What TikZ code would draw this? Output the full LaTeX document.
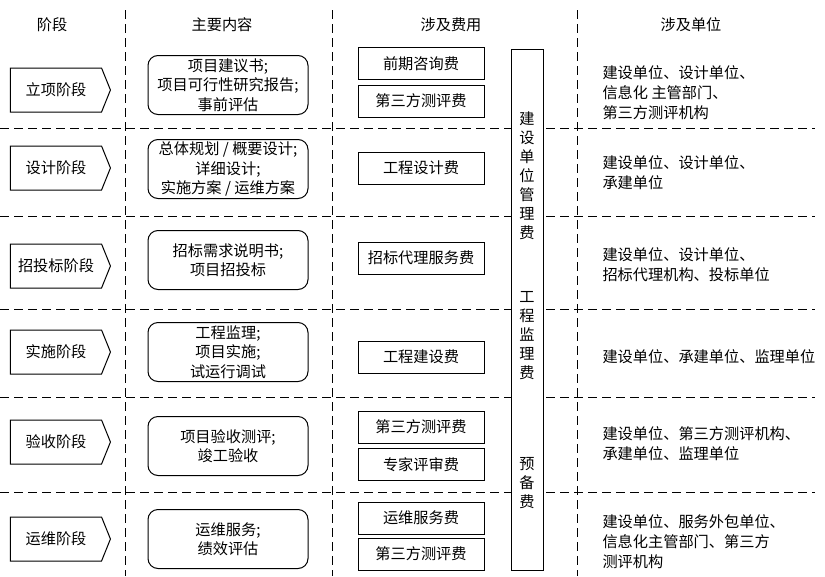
\documentclass[tikz,border=0pt]{standalone}
\usepackage{fontspec}
\setmainfont{Noto Sans CJK SC}
\usetikzlibrary{shapes.symbols}

\begin{document}
\begin{tikzpicture}[x=1pt, y=-1pt, line width=1pt,
  every node/.style={font=\fontsize{15.2}{19.5}\selectfont, inner sep=0pt},
  stage/.style={draw, shape=signal, signal to=east, signal pointer angle=136,
    minimum width=100pt, minimum height=44pt},
  content/.style={draw, rounded corners=10pt, minimum width=160pt, minimum height=59pt, align=center},
  cost/.style={draw, minimum width=126pt, minimum height=32pt},
  unit/.style={anchor=west, align=left, font=\fontsize{15.2}{20}\selectfont},
  vtext/.style={align=center, font=\fontsize{15.2}{19}\selectfont},
  rule/.style={line width=0.9pt, dash pattern=on 9pt off 5pt}]
  \useasboundingbox (0,0) rectangle (825,576);
  % table rules
  \foreach \y in {128,216,309,397,492} \draw[rule] (0,\y) -- (815,\y);
  \foreach \x in {125,332,577} \draw[rule] (\x,10) -- (\x,576);
  % headers
  \node (hstage) at (52,25)  {阶段};
  \node (hcont)  at (222,25) {主要内容};
  \node (hcost)  at (451,25) {涉及费用};
  \node (hunit)  at (691,25) {涉及单位};
  % stages
  \node[stage] (s1) at (56,90)  {立项阶段};
  \node[stage] (s2) at (56,168) {设计阶段};
  \node[stage] (s3) at (56,266) {招投标阶段};
  \node[stage] (s4) at (56,352) {实施阶段};
  \node[stage] (s5) at (56,442) {验收阶段};
  \node[stage] (s6) at (56,539) {运维阶段};
  % main contents
  \node[content] (c1) at (228,85)  {项目建议书;\\项目可行性研究报告;\\事前评估};
  \node[content] (c2) at (228,169) {总体规划 / 概要设计;\\详细设计;\\实施方案 / 运维方案};
  \node[content] (c3) at (228,260) {招标需求说明书;\\项目招投标};
  \node[content] (c4) at (228,352) {工程监理;\\项目实施;\\试运行调试};
  \node[content] (c5) at (228,446) {项目验收测评;\\竣工验收};
  \node[content] (c6) at (228,539) {运维服务;\\绩效评估};
  % costs
  \node[cost] (f1a) at (421,63.5)  {前期咨询费};
  \node[cost] (f1b) at (421,101)   {第三方测评费};
  \node[cost] (f2)  at (421,168)   {工程设计费};
  \node[cost] (f3)  at (421,258)   {招标代理服务费};
  \node[cost] (f4)  at (421,357)   {工程建设费};
  \node[cost] (f5a) at (421,427)   {第三方测评费};
  \node[cost] (f5b) at (421,464.5) {专家评审费};
  \node[cost] (f6a) at (421,518)   {运维服务费};
  \node[cost] (f6b) at (421,554)   {第三方测评费};
  % common costs
  \node[draw, fill=white, minimum width=32pt, minimum height=521pt] (common) at (527,309.5) {};
  \node[vtext] (v1) at (527,176) {建\\设\\单\\位\\管\\理\\费};
  \node[vtext] (v2) at (527,336) {工\\程\\监\\理\\费};
  \node[vtext] (v3) at (527,483) {预\\备\\费};
  % units
  \node[unit] (u1) at (602,93)    {建设单位、设计单位、\\信息化 主管部门、\\第三方测评机构};
  \node[unit] (u2) at (602,172.5) {建设单位、设计单位、\\承建单位};
  \node[unit] (u3) at (602,264.5) {建设单位、设计单位、\\招标代理机构、投标单位};
  \node[unit] (u4) at (602,357)   {建设单位、承建单位、监理单位};
  \node[unit] (u5) at (602,444)   {建设单位、第三方测评机构、\\承建单位、监理单位};
  \node[unit] (u6) at (602,541.5) {建设单位、服务外包单位、\\信息化主管部门、第三方\\测评机构};
\end{tikzpicture}
\end{document}
